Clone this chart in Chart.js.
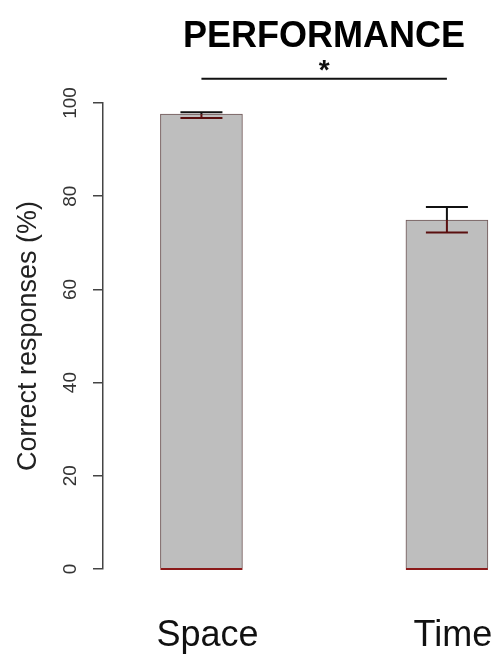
<!DOCTYPE html>
<html>
<head>
<meta charset="utf-8">
<script src="https://cdn.jsdelivr.net/npm/chart.js@4/dist/chart.umd.min.js"></script>
<style>
  html, body { margin: 0; padding: 0; background: #fff; }
  #wrap { width: 496px; height: 655px; }
</style>
</head>
<body>
<div id="wrap"><canvas id="perf"></canvas></div>
<script>
'use strict';
// values
const categories = ['Space', 'Time'];
const means = [97.6, 74.9];
const errLow = [96.8, 72.2];
const errHigh = [98.0, 77.7];
const yTicks = [0, 20, 40, 60, 80, 100];
const sigLevel = 105.2;
const sigMark = '*';
const titleText = 'PERFORMANCE';

const FONT = '"Liberation Sans", Arial, Helvetica, sans-serif';

// error bars, bottom line of bars, significance bracket, rotated y labels, title
const extras = {
  id: 'extras',
  afterDatasetsDraw(chart) {
    const ctx = chart.ctx, y = chart.scales.y;
    const meta = chart.getDatasetMeta(0);
    ctx.save();
    meta.data.forEach((bar, i) => {
      const half = bar.width / 2;
      // dark red base line
      ctx.strokeStyle = '#8b1a1a';
      ctx.lineWidth = 2;
      ctx.beginPath();
      ctx.moveTo(bar.x - half, y.getPixelForValue(0));
      ctx.lineTo(bar.x + half, y.getPixelForValue(0));
      ctx.stroke();

      const top = y.getPixelForValue(means[i]);
      const hi = y.getPixelForValue(errHigh[i]);
      const lo = y.getPixelForValue(errLow[i]);
      const cap = 21;
      ctx.lineWidth = 2;
      // part above bar: black
      ctx.strokeStyle = '#111';
      ctx.beginPath();
      ctx.moveTo(bar.x, hi); ctx.lineTo(bar.x, top);
      ctx.moveTo(bar.x - cap, hi); ctx.lineTo(bar.x + cap, hi);
      ctx.stroke();
      // part inside bar: dark red
      ctx.strokeStyle = '#5a0f0f';
      ctx.beginPath();
      ctx.moveTo(bar.x, top); ctx.lineTo(bar.x, lo);
      ctx.moveTo(bar.x - cap, lo); ctx.lineTo(bar.x + cap, lo);
      ctx.stroke();
    });

    // significance bracket
    const sy = y.getPixelForValue(sigLevel);
    const x0 = meta.data[0].x, x1 = meta.data[1].x;
    ctx.strokeStyle = '#111';
    ctx.lineWidth = 2;
    ctx.beginPath();
    ctx.moveTo(x0, sy); ctx.lineTo(x1, sy);
    ctx.stroke();
    ctx.fillStyle = '#111';
    ctx.font = 'bold 28px ' + FONT;
    ctx.textAlign = 'center';
    ctx.textBaseline = 'middle';
    ctx.fillText(sigMark, (x0 + x1) / 2, sy - 7);

    // rotated y tick labels
    ctx.font = '19px ' + FONT;
    ctx.fillStyle = '#333';
    yTicks.forEach(v => {
      ctx.save();
      ctx.translate(71, y.getPixelForValue(v));
      ctx.rotate(-Math.PI / 2);
      ctx.fillText(String(v), 0, 0);
      ctx.restore();
    });

    // title
    ctx.font = 'bold 36px ' + FONT;
    ctx.fillStyle = '#000';
    ctx.textBaseline = 'alphabetic';
    ctx.fillText(titleText, 324, 47);
    ctx.restore();
  }
};

new Chart(document.getElementById('perf'), {
  type: 'bar',
  data: {
    datasets: [{
      data: means.map((v, i) => ({ x: i, y: v })),
      backgroundColor: '#bebebe',
      borderColor: '#6e5555',
      borderWidth: 1,
      barThickness: 82
    }]
  },
  options: {
    responsive: true,
    maintainAspectRatio: false,
    animation: false,
    events: [],
    layout: { padding: { top: 103, right: 0, left: 0, bottom: 0 } },
    plugins: { legend: { display: false }, tooltip: { enabled: false } },
    scales: {
      x: {
        type: 'linear',
        offset: false,
        min: -0.401,
        max: 1.2,
        afterBuildTicks: s => { s.ticks = categories.map((c, i) => ({ value: i })); },
        afterFit: s => { s.height = 86; s.paddingLeft = 0; s.paddingRight = 0; },
        grid: { display: false },
        border: { display: false },
        ticks: {
          callback: v => categories[v],
          font: { family: FONT, size: 36 },
          color: '#111',
          padding: 37,
          labelOffset: 6,
          maxRotation: 0
        }
      },
      y: {
        min: 0,
        max: 100,
        afterFit: s => { s.width = 103; },
        afterBuildTicks: s => { s.ticks = yTicks.map(v => ({ value: v })); },
        grid: { drawOnChartArea: false, drawTicks: true, tickLength: 10, color: '#444', lineWidth: 1.5 },
        border: { display: true, color: '#444', width: 1.5 },
        ticks: { display: false },
        title: {
          display: true,
          text: 'Correct responses (%)',
          font: { family: FONT, size: 27 },
          color: '#222',
          padding: { top: 12, bottom: 0 }
        }
      }
    }
  },
  plugins: [extras]
});
</script>
</body>
</html>
